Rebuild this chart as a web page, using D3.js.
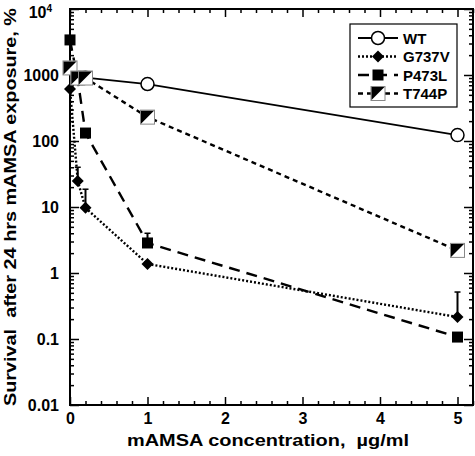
<!DOCTYPE html>
<html><head><meta charset="utf-8">
<script src="https://cdn.jsdelivr.net/npm/d3@7"></script>
<style>body{margin:0;background:#fff}svg{display:block}text{font-family:"Liberation Sans",Arial,sans-serif;font-weight:bold}</style>
</head><body><svg id="c" width="475" height="456"></svg>
<script>
const xTicks=[0,1,2,3,4,5];
const yTicks=[0.01,0.1,1,10,100,1000,10000];
const yTickLabels=["0.01","0.1","1","10","100","1000","10^4"];
const wtX=[0.2,1,5], wtY=[910,730,123];
const g737vX=[0,0.1,0.2,1,5], g737vY=[615,24.8,9.7,1.37,0.215], g737vErr=[null,40,18.6,null,0.515];
const p473lX=[0,0.1,0.2,1,5], p473lY=[3400,850,132,2.85,0.107], p473lErr=[null,null,null,4.0,null];
const t744pX=[0,0.1,0.2,1,5], t744pY=[1280,900,900,230,2.2];
const seriesNames=["WT","G737V","P473L","T744P"];

const svg=d3.select("#c");
const L=70,R=473,T=9,B=405;
const x=d3.scaleLinear().domain([0,5.2]).range([L,R]);
const y=d3.scaleLog().domain([0.01,10000]).range([B,T]);

svg.append("rect").attr("x",L).attr("y",T).attr("width",R-L).attr("height",B-T).attr("fill","none").attr("stroke","#000").attr("stroke-width",2);

const minorX=d3.range(0,5.2001,0.2).map(v=>+v.toFixed(2)).filter(v=>v<=5.2);
const minorY=[];
for(let e=-2;e<4;e++){for(let k=2;k<10;k++)minorY.push(k*Math.pow(10,e));}

function tickAxis(axisFn,scale,vals,size,tx,ty){
  const g=svg.append("g").attr("transform",`translate(${tx},${ty})`).call(axisFn(scale).tickValues(vals).tickSize(size).tickFormat(""));
  g.select(".domain").remove();
  g.selectAll("line").attr("stroke","#000").attr("stroke-width",1.5);
  return g;
}
const majX=xTicks, minX=minorX.filter(v=>!xTicks.includes(v));
tickAxis(d3.axisTop,x,majX,8,0,B); tickAxis(d3.axisTop,x,minX,4,0,B);
tickAxis(d3.axisBottom,x,majX,8,0,T); tickAxis(d3.axisBottom,x,minX,4,0,T);
tickAxis(d3.axisRight,y,yTicks,9,L,0); tickAxis(d3.axisRight,y,minorY,4,L,0);
tickAxis(d3.axisLeft,y,yTicks,9,R,0); tickAxis(d3.axisLeft,y,minorY,4,R,0);

const xl=svg.append("g").attr("transform",`translate(0,${B})`).call(d3.axisBottom(x).tickValues(xTicks).tickSize(0).tickPadding(8).tickFormat(d3.format("d")));
xl.select(".domain").remove();
xl.selectAll("text").attr("font-size",16).attr("font-family","Liberation Sans, Arial, sans-serif").attr("font-weight","bold").attr("fill","#000");
const yl=svg.append("g").attr("transform",`translate(${L},0)`).call(d3.axisLeft(y).tickValues(yTicks).tickSize(0).tickPadding(11).tickFormat(()=>""));
yl.select(".domain").remove();
yl.selectAll(".tick").each(function(d,i){
  const t=d3.select(this).select("text").attr("font-size",16).attr("font-family","Liberation Sans, Arial, sans-serif").attr("font-weight","bold").attr("fill","#000");
  const lab=yTickLabels[i];
  if(lab.includes("^")){const [b,e]=lab.split("^");t.attr("y",3).attr("x",-18).text(b);t.append("tspan").attr("dy",-6).attr("font-size",10).text(e);}
  else t.text(lab);
});

svg.append("text").attr("x",268).attr("y",446).attr("text-anchor","middle").attr("font-size",17).attr("textLength",282).attr("lengthAdjust","spacingAndGlyphs").style("white-space","pre").text("mAMSA concentration,  µg/ml");
svg.append("text").attr("transform",`translate(16,207) rotate(-90)`).attr("text-anchor","middle").attr("font-size",17).attr("textLength",398).attr("lengthAdjust","spacingAndGlyphs").style("white-space","pre").text("Survival  after 24 hrs mAMSA exposure, %");

const styles={
 WT:{dash:null,w:1.8},
 G737V:{dash:"2,2",w:2.4},
 P473L:{dash:"11,7",w:2.4},
 T744P:{dash:"5,4",w:2.4}
};
const line=d3.line().x(d=>x(d[0])).y(d=>y(d[1]));
function drawLine(xs,ys,st){
  svg.append("path").datum(xs.map((v,i)=>[v,ys[i]])).attr("d",line).attr("fill","none").attr("stroke","#000").attr("stroke-width",st.w).attr("stroke-dasharray",st.dash);
}
function errBars(xs,ys,es){
  xs.forEach((v,i)=>{ if(es[i]==null)return;
    svg.append("line").attr("x1",x(v)).attr("x2",x(v)).attr("y1",y(ys[i])).attr("y2",y(es[i])).attr("stroke","#000").attr("stroke-width",2);
    svg.append("line").attr("x1",x(v)-3).attr("x2",x(v)+3).attr("y1",y(es[i])).attr("y2",y(es[i])).attr("stroke","#000").attr("stroke-width",1.5);
  });
}
function marker(g,name,cx,cy){
  if(name==="WT") g.append("circle").attr("cx",cx).attr("cy",cy).attr("r",6.5).attr("fill","#fff").attr("stroke","#000").attr("stroke-width",1.5);
  else if(name==="G737V") g.append("path").attr("d",`M${cx},${cy-6}L${cx+6},${cy}L${cx},${cy+6}L${cx-6},${cy}Z`).attr("fill","#000");
  else if(name==="P473L") g.append("rect").attr("x",cx-5.5).attr("y",cy-5.5).attr("width",11).attr("height",11).attr("fill","#000");
  else {
    g.append("rect").attr("x",cx-7).attr("y",cy-7).attr("width",14).attr("height",14).attr("fill","#fff").attr("stroke","#888").attr("stroke-width",1);
    g.append("path").attr("d",`M${cx-6.5},${cy-6.5}L${cx+6.5},${cy-6.5}L${cx-6.5},${cy+6.5}Z`).attr("fill","#000");
  }
}
drawLine(wtX,wtY,styles.WT);
drawLine(g737vX,g737vY,styles.G737V);
drawLine(p473lX,p473lY,styles.P473L);
drawLine(t744pX,t744pY,styles.T744P);
errBars(g737vX,g737vY,g737vErr);
errBars(p473lX,p473lY,p473lErr);
wtX.forEach((v,i)=>marker(svg,"WT",x(v),y(wtY[i])));
p473lX.forEach((v,i)=>marker(svg,"P473L",x(v),y(p473lY[i])));
g737vX.forEach((v,i)=>marker(svg,"G737V",x(v),y(g737vY[i])));
t744pX.forEach((v,i)=>marker(svg,"T744P",x(v),y(t744pY[i])));

const lg=svg.append("g");
lg.append("rect").attr("x",350).attr("y",24).attr("width",107).attr("height",83).attr("fill","#fff").attr("stroke","#000").attr("stroke-width",1.2);
seriesNames.forEach((n,i)=>{
  const ly=38+i*18.5;
  lg.append("line").attr("x1",358).attr("x2",398).attr("y1",ly).attr("y2",ly).attr("stroke","#000").attr("stroke-width",styles[n].w).attr("stroke-dasharray",styles[n].dash);
  marker(lg,n,378,ly);
  lg.append("text").attr("x",403).attr("y",ly+5.5).attr("font-size",15).text(n);
});
</script></body></html>
